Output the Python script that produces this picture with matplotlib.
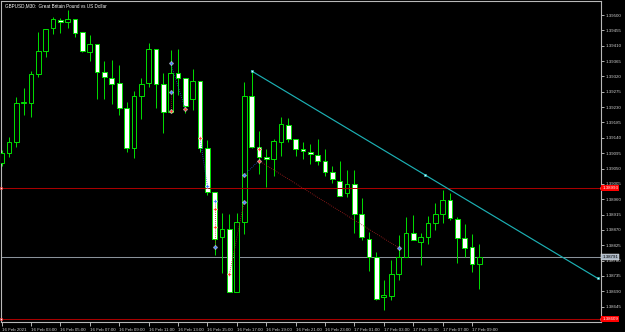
import matplotlib
matplotlib.use("Agg")
import matplotlib.pyplot as plt
from matplotlib.patches import Rectangle
from matplotlib.transforms import blended_transform_factory

plt.rcParams['font.family'] = ['Liberation Sans', 'DejaVu Sans']

# GBPUSD M30, bars from 16 Feb 2021 01:00 (one bar every 30 min)
opens = [1.39066, 1.39095, 1.39128, 1.39242, 1.39242, 1.39327, 1.39394, 1.39462, 1.39485, 1.39479,
         1.39488, 1.39450, 1.39392, 1.39415, 1.39333, 1.39315, 1.39301, 1.39227, 1.39110, 1.39263,
         1.39301, 1.39400, 1.39298, 1.39216, 1.39330, 1.39315, 1.39254, 1.39306, 1.39110, 1.38981,
         1.38849, 1.38873, 1.38688, 1.38893, 1.39263, 1.39113, 1.39084, 1.39078, 1.39128, 1.39177,
         1.39136, 1.39107, 1.39098, 1.39090, 1.39072, 1.39040, 1.39013, 1.38978, 1.39005, 1.38917,
         1.38843, 1.38791, 1.38673, 1.38676, 1.38741, 1.38791, 1.38861, 1.38835, 1.38849, 1.38890,
         1.38917, 1.38958, 1.38902, 1.38846, 1.38820, 1.38770]
highs = [1.39104, 1.39142, 1.39260, 1.39286, 1.39336, 1.39450, 1.39459, 1.39494, 1.39491, 1.39515,
         1.39488, 1.39450, 1.39441, 1.39415, 1.39365, 1.39368, 1.39353, 1.39245, 1.39277, 1.39315,
         1.39418, 1.39400, 1.39330, 1.39397, 1.39400, 1.39315, 1.39342, 1.39306, 1.39134, 1.38981,
         1.38920, 1.38917, 1.38920, 1.39304, 1.39336, 1.39160, 1.39107, 1.39136, 1.39201, 1.39198,
         1.39136, 1.39128, 1.39122, 1.39136, 1.39107, 1.39057, 1.39072, 1.39046, 1.39046, 1.38964,
         1.38864, 1.38805, 1.38723, 1.38782, 1.38855, 1.38908, 1.38914, 1.38861, 1.38911, 1.38949,
         1.38987, 1.38978, 1.38908, 1.38887, 1.38858, 1.38829]
lows = [1.39057, 1.39084, 1.39113, 1.39207, 1.39201, 1.39318, 1.39377, 1.39444, 1.39447, 1.39462,
        1.39436, 1.39392, 1.39365, 1.39254, 1.39254, 1.39239, 1.39207, 1.39098, 1.39081, 1.39195,
        1.39289, 1.39227, 1.39154, 1.39213, 1.39265, 1.39213, 1.39221, 1.39098, 1.38972, 1.38796,
        1.38744, 1.38688, 1.38688, 1.38858, 1.39110, 1.39034, 1.38996, 1.39028, 1.39087, 1.39128,
        1.39087, 1.39078, 1.39063, 1.39060, 1.39028, 1.39007, 1.38969, 1.38966, 1.38861, 1.38840,
        1.38750, 1.38665, 1.38635, 1.38665, 1.38723, 1.38791, 1.38840, 1.38767, 1.38829, 1.38870,
        1.38890, 1.38899, 1.38773, 1.38791, 1.38747, 1.38697]
closes = [1.39095, 1.39128, 1.39242, 1.39245, 1.39327, 1.39394, 1.39459, 1.39488, 1.39479, 1.39488,
          1.39447, 1.39394, 1.39415, 1.39333, 1.39318, 1.39298, 1.39227, 1.39110, 1.39263, 1.39298,
          1.39400, 1.39298, 1.39216, 1.39330, 1.39315, 1.39233, 1.39306, 1.39110, 1.38981, 1.38843,
          1.38873, 1.38688, 1.38893, 1.39263, 1.39113, 1.39084, 1.39078, 1.39131, 1.39180, 1.39136,
          1.39107, 1.39101, 1.39092, 1.39072, 1.39040, 1.39019, 1.38969, 1.39005, 1.38917, 1.38849,
          1.38791, 1.38667, 1.38679, 1.38741, 1.38791, 1.38861, 1.38840, 1.38849, 1.38890, 1.38917,
          1.38958, 1.38905, 1.38846, 1.38817, 1.38770, 1.38791]

time_tick_bars = [0, 4, 8, 12, 16, 20, 24, 28, 32, 36, 40, 44, 48, 52, 56, 60, 64]
time_tick_labels = ["16 Feb 2021", "16 Feb 03:00", "16 Feb 05:00", "16 Feb 07:00", "16 Feb 09:00",
                    "16 Feb 11:00", "16 Feb 13:00", "16 Feb 15:00", "16 Feb 17:00", "16 Feb 19:00",
                    "16 Feb 21:00", "16 Feb 23:00", "17 Feb 01:00", "17 Feb 03:00", "17 Feb 05:00",
                    "17 Feb 07:00", "17 Feb 09:00"]
price_ticks = [1.39500, 1.39455, 1.39410, 1.39365, 1.39320, 1.39275, 1.39230, 1.39185, 1.39140,
               1.39095, 1.39050, 1.39005, 1.38960, 1.38915, 1.38870, 1.38825, 1.38780, 1.38735,
               1.38690, 1.38645]

# chart objects
hline_levels = [1.38993, 1.38609]
bid_price = 1.38791
trend_bars = [34, 81.1]
trend_prices = [1.39336, 1.38728]

# trade history arrows (bar, price)
buy_marks_bar = [23, 23, 28, 29, 29, 33, 33, 54]
buy_marks_price = [1.39358, 1.39273, 1.38999, 1.38954, 1.38821, 1.39031, 1.38953, 1.38818]
sell_marks_bar = [23, 25, 27, 29, 29, 31, 35, 35]
sell_marks_price = [1.39219, 1.39224, 1.39139, 1.38930, 1.38878, 1.38740, 1.39107, 1.39073]
# trade connecting lines: (bar0, price0, bar1, price1)
buy_links = [(23, 1.39358, 25, 1.39224), (33, 1.39031, 35, 1.39073), (28, 1.38999, 27, 1.39139)]
sell_links = [(23, 1.39273, 23, 1.39219), (29, 1.38954, 29, 1.38821), (31, 1.38740, 33, 1.38953),
              (35, 1.39073, 54, 1.38818)]

GREEN = '#00e000'
FG = '#d0d0d0'

fig = plt.figure(figsize=(6.25, 3.32), dpi=100, facecolor='black')
ax = fig.add_axes([1 / 625, 10 / 332, 599.5 / 625, 321 / 332])
ax.set_facecolor('black')
ax.set_xlim(-0.08, 81.48)
ax.set_ylim(1.38600, 1.395411)

# --- candles ---
for i, (o, h, l, c) in enumerate(zip(opens, highs, lows, closes)):
    ax.vlines(i, l, h, color=GREEN, lw=0.7, zorder=2)
    bottom = min(o, c)
    height = max(abs(c - o), 0.000004)
    face = 'black' if c > o else 'white'
    ax.add_patch(Rectangle((i - 0.32, bottom), 0.64, height, facecolor=face,
                           edgecolor=GREEN, lw=0.7, zorder=3))

# --- horizontal lines ---
for lvl in hline_levels:
    ax.axhline(lvl, color='#a80000', lw=0.75, zorder=4)
    ax.plot([0.0, 1.0], [lvl, lvl], ls='none', marker='s', ms=1.6, mfc='white',
            mec='#ff2020', mew=0.4, transform=blended_transform_factory(ax.transAxes, ax.transData),
            clip_on=False, zorder=6)
ax.axhline(bid_price, color='#8a929a', lw=0.75, zorder=1)

# --- trend line ---
ax.plot(trend_bars, trend_prices, color='#1cb0b4', lw=0.85, zorder=5)
mid_bar = (trend_bars[0] + trend_bars[1]) / 2
mid_price = (trend_prices[0] + trend_prices[1]) / 2
ax.plot(trend_bars + [mid_bar], trend_prices + [mid_price], ls='none', marker='s', ms=1.6,
        mfc='#e0ffff', mec='#20c8c8', mew=0.4, zorder=6)

# --- trade history ---
for b0, p0, b1, p1 in buy_links:
    ax.plot([b0, b1], [p0, p1], color='#2050d0', lw=0.6, ls=(0, (1, 1.5)), zorder=4)
for b0, p0, b1, p1 in sell_links:
    ax.plot([b0, b1], [p0, p1], color='#b02020', lw=0.6, ls=(0, (1, 1.5)), zorder=4)
ax.plot(buy_marks_bar, buy_marks_price, ls='none', marker='P', ms=2.6, mfc='#3a7bff',
        mec='white', mew=0.3, zorder=7)
ax.plot(sell_marks_bar, sell_marks_price, ls='none', marker='P', ms=2.6, mfc='#ff3b2f',
        mec='white', mew=0.3, zorder=7)

# --- axes styling ---
for sp in ax.spines.values():
    sp.set_color('#b8b8b8')
    sp.set_linewidth(0.8)

ax.yaxis.tick_right()
ax.set_yticks(price_ticks)
ax.set_yticklabels([f"{v:.5f}" for v in price_ticks])
ax.tick_params(axis='y', colors=FG, labelsize=3.2, length=2.5, width=0.6, pad=1)

ax.set_xticks(time_tick_bars)
ax.set_xticklabels(time_tick_labels, ha='left')
ax.tick_params(axis='x', colors=FG, labelsize=3.2, length=3, width=0.6, pad=1.2)

ax.text(0.006, 0.994, "GBPUSD,M30:  Great Britain Pound vs US Dollar", transform=ax.transAxes,
        fontsize=3.3, color='white', va='top', ha='left')

# price labels on the right axis
bt = blended_transform_factory(ax.transAxes, ax.transData)
for lvl in hline_levels:
    ax.text(1.003, lvl, f"{lvl:.5f}", transform=bt, fontsize=3.2, color='white',
            va='center', ha='left', zorder=8,
            bbox=dict(boxstyle='square,pad=0.25', fc='#ff0000', ec='none'))
ax.text(1.003, bid_price, f"{bid_price:.5f}", transform=bt, fontsize=3.2, color='black',
        va='center', ha='left', zorder=8,
        bbox=dict(boxstyle='square,pad=0.25', fc='#a8b4c2', ec='white', lw=0.3))

fig.savefig('out.png', dpi=100, facecolor='black')
